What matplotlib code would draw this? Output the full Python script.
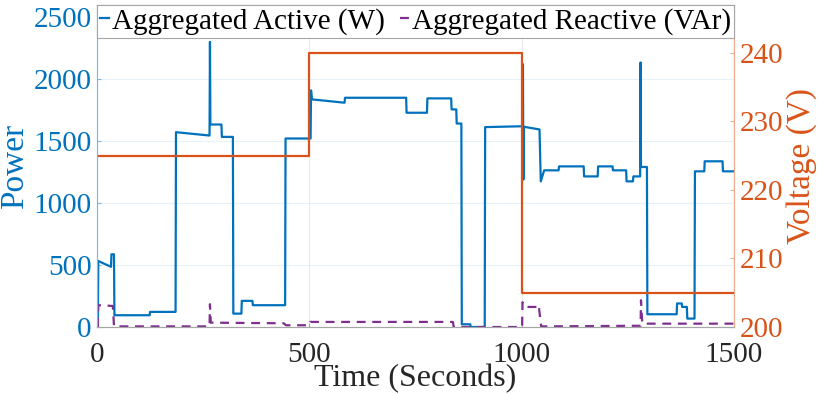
import matplotlib
matplotlib.use("Agg")
import matplotlib.pyplot as plt

# ── data ─────────────────────────────────────────────────────────────────────
active_t = [2, 3, 33, 34, 40, 41, 124, 125, 185, 186, 265, 266, 267, 293, 294,
            320, 321, 340, 341, 366, 367, 443, 444, 503, 504, 506, 583, 584,
            728, 729, 777, 778, 834, 835, 846, 847, 858, 859, 879, 880, 913,
            914, 1002, 1003, 1004, 1005, 1042, 1045, 1053, 1087, 1088, 1146,
            1147, 1179, 1180, 1214, 1215, 1246, 1247, 1262, 1263, 1279, 1280,
            1281, 1295, 1296, 1365, 1366, 1377, 1378, 1389, 1390, 1407, 1408,
            1430, 1431, 1473, 1474, 1500]
active_p = [0, 533, 486, 587, 587, 95, 95, 122, 122, 1573, 1546, 2302, 1635,
            1635, 1535, 1535, 108, 108, 211, 211, 176, 176, 1522, 1522, 1911,
            1838, 1811, 1851, 1851, 1730, 1730, 1846, 1846, 1757, 1757, 1643,
            1643, 22, 22, 0, 0, 1614, 1621, 2121, 1190, 1617, 1595, 1176, 1265,
            1265, 1297, 1297, 1216, 1216, 1297, 1297, 1265, 1265, 1176, 1176,
            1216, 1216, 2136, 1292, 1292, 103, 103, 190, 190, 162, 162, 68, 68,
            1257, 1257, 1338, 1338, 1257, 1257]

reactive_t = [2, 3, 37, 38, 40, 265, 266, 268, 440, 445, 500, 502, 838, 840,
              1001, 1002, 1008, 1039, 1040, 1046, 1280, 1281, 1284, 1500]
reactive_q = [0, 176, 170, 135, 5, 5, 184, 35, 30, 14, 14, 41, 41, 0,
              0, 200, 162, 162, 176, 5, 10, 216, 27, 27]

volt_t = [0, 500, 500, 1000, 1000, 1500]
volt_v = [225, 225, 240, 240, 205, 205]

BLUE = "#0072BD"
ORANGE = "#D95319"
PURPLE = "#7E2F8E"

plt.rcParams["font.family"] = ["Liberation Serif", "DejaVu Serif"]

fig = plt.figure(figsize=(8.30, 3.94), dpi=100, facecolor="white")
ax = fig.add_axes([97 / 830, 1 - 327 / 394, 637 / 830, 322 / 394])
ax2 = ax.twinx()

# faint grid
for y in [500, 1000, 1500, 2000]:
    ax.axhline(y, color="#e8f0f8", lw=0.8, zorder=0)
for x in [500, 1000]:
    ax.axvline(x, color="#ececec", lw=0.8, zorder=0)

l1, = ax.plot(active_t, active_p, color=BLUE, lw=1.6,
              label="Aggregated Active (W)")
l2, = ax.plot(reactive_t, reactive_q, color=PURPLE, lw=1.6,
              linestyle=(0, (4, 3)), label="Aggregated Reactive (VAr)")
ax2.plot(volt_t, volt_v, color=ORANGE, lw=1.6)

ax.set_xlim(0, 1500)
ax.set_ylim(0, 2600)
ax2.set_ylim(200, 247)
ax.set_xticks([0, 500, 1000, 1500])
ax.set_yticks([0, 500, 1000, 1500, 2000, 2500])
ax2.set_yticks([200, 210, 220, 230, 240])

ax.tick_params(axis="x", direction="in", length=3, colors="#a6a6a6",
               labelcolor="#262626", labelsize=21, pad=11)
ax.tick_params(axis="y", direction="in", length=3, colors="#80b8de",
               labelcolor=BLUE, labelsize=21, pad=4)
ax2.tick_params(axis="y", direction="in", length=3, colors="#ecab8c",
                labelcolor=ORANGE, labelsize=21, pad=4)

ax.set_xlabel("Time (Seconds)", fontsize=23, color="#262626", labelpad=-3)
ax.set_ylabel("Power", fontsize=24, color=BLUE, labelpad=2)
ax2.set_ylabel("Voltage (V)", fontsize=24, color=ORANGE, labelpad=2)

for a in (ax, ax2):
    a.spines["bottom"].set_color("#a6a6a6")
    a.spines["top"].set_color("#a6a6a6")
    a.spines["left"].set_color("#80b8de")
    a.spines["right"].set_color("#ecab8c")

leg = ax2.legend([l1, l2], [l1.get_label(), l2.get_label()],
                 loc="upper left", bbox_to_anchor=(0, 1, 1, 0), mode="expand",
                 ncol=2, borderaxespad=0, fontsize=21, handlelength=0.3,
                 handletextpad=0.1, columnspacing=0.2, borderpad=0.1,
                 fancybox=False, framealpha=1, edgecolor="#a6a6a6")
leg.get_frame().set_linewidth(0.8)
leg.set_zorder(10)

fig.savefig("out.png", dpi=100, facecolor="white")
